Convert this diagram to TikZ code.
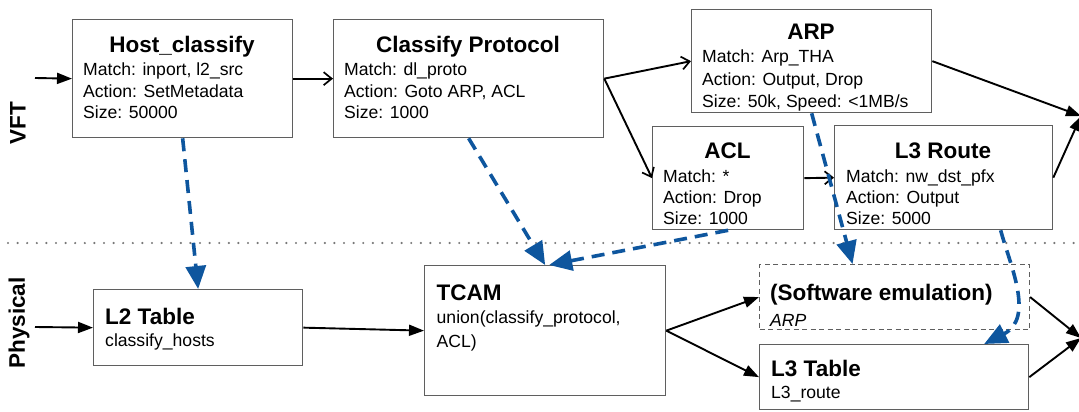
\documentclass[tikz,border=0pt]{standalone}
\usepackage{fontspec}
\setmainfont{Liberation Sans}
\usetikzlibrary{arrows.meta,calc}
\definecolor{dblue}{RGB}{14,86,158}
\definecolor{bgray}{RGB}{95,95,95}
\definecolor{dgray}{RGB}{120,120,120}
\begin{document}
\begin{tikzpicture}[x=1pt,y=-1pt,
 box/.style={draw=bgray,line width=1.3pt,rectangle,inner sep=0,anchor=north west},
 swbox/.style={draw=bgray,line width=1.1pt,dash pattern=on 5pt off 3.5pt,rectangle,inner sep=0,anchor=north west},
 ttl/.style={font=\fontsize{22.5}{26}\selectfont\bfseries,inner sep=0,anchor=base},
 ttll/.style={font=\fontsize{22.5}{26}\selectfont\bfseries,inner sep=0,anchor=base west},
 txt/.style={font=\fontsize{17.6}{21}\selectfont,inner sep=0,anchor=base west},
 side/.style={font=\fontsize{22.5}{26}\selectfont\bfseries,inner sep=0,rotate=90},
 flow/.style={draw=black,line width=1.9pt,-{Triangle[length=15pt,width=11pt]}},
 flowo/.style={draw=black,line width=1.9pt,-{Straight Barb[length=8pt,width=13pt,line width=1.7pt]}},
 map/.style={draw=dblue,line width=3.6pt,dash pattern=on 13pt off 8pt,-{Triangle[length=23pt,width=20pt]}},
 dotline/.style={draw=dgray,line width=2.4pt,line cap=round,dash pattern=on 0pt off 9.6pt},
]
\useasboundingbox (0,0) rectangle (1079,412);

% dotted separator
\coordinate (dL) at (8,243);
\coordinate (dR) at (1079,243);
\draw[dotline] (dL) -- (dR);

% side labels
\node[side] (vft) at (18,123) {VFT};
\node[side] (phys) at (19,323) {Physical};

% VFT boxes
\node[box,minimum width=220pt,minimum height=118pt] (host) at (72,19) {};
\node[box,minimum width=270pt,minimum height=118pt] (cp) at (333,19) {};
\node[box,minimum width=240pt,minimum height=103pt] (arp) at (691,9) {};
\node[box,minimum width=151pt,minimum height=103pt] (acl) at (652,126) {};
\node[box,minimum width=218pt,minimum height=104pt] (l3r) at (834,125) {};

% Physical boxes
\node[box,minimum width=209pt,minimum height=76pt] (l2) at (93,289) {};
\node[box,minimum width=241pt,minimum height=130pt] (tcam) at (424,265) {};
\node[swbox,minimum width=270pt,minimum height=65pt] (sw) at (759,264) {};
\node[box,minimum width=269pt,minimum height=65pt] (l3t) at (759,344) {};

% texts: Host_classify
\node[ttl] (t1) at (182,53) {Host\_classify};
\node[txt] (t1a) at (83,75) {Match: inport, l2\_src};
\node[txt] (t1b) at (83,97) {Action: SetMetadata};
\node[txt] (t1c) at (83,118) {Size: 50000};
% Classify Protocol
\node[ttl] (t2) at (468,53) {Classify Protocol};
\node[txt] (t2a) at (344,75) {Match: dl\_proto};
\node[txt] (t2b) at (344,97) {Action: Goto ARP, ACL};
\node[txt] (t2c) at (344,118) {Size: 1000};
% ARP
\node[ttl] (t3) at (811,40) {ARP};
\node[txt] (t3a) at (702,63) {Match: Arp\_THA};
\node[txt] (t3b) at (702,85) {Action: Output, Drop};
\node[txt] (t3c) at (702,107) {Size: 50k, Speed: <1MB/s};
% ACL
\node[ttl] (t4) at (727.5,158) {ACL};
\node[txt] (t4a) at (663,182) {Match: *};
\node[txt] (t4b) at (663,203) {Action: Drop};
\node[txt] (t4c) at (663,224) {Size: 1000};
% L3 Route
\node[ttl] (t5) at (943,158) {L3 Route};
\node[txt] (t5a) at (846,182) {Match: nw\_dst\_pfx};
\node[txt] (t5b) at (846,203) {Action: Output};
\node[txt] (t5c) at (846,224) {Size: 5000};
% L2 Table
\node[ttll] (t6) at (105,324) {L2 Table};
\node[txt] (t6a) at (105,346) {classify\_hosts};
% TCAM
\node[ttll] (t7) at (436.5,300) {TCAM};
\node[txt] (t7a) at (436.5,323) {union(classify\_protocol,};
\node[txt] (t7b) at (436.5,347) {ACL)};
% Software emulation
\node[ttll] (t8) at (770,300) {(Software emulation)};
\node[txt,font=\fontsize{17.6}{21}\selectfont\itshape] (t8a) at (770,326) {ARP};
% L3 Table
\node[ttll] (t9) at (771,376) {L3 Table};
\node[txt] (t9a) at (771,398) {L3\_route};

% black flow arrows
\coordinate (inA) at (35,78);
\coordinate (inB) at (35,327);
\coordinate (outA) at (1081,116);
\coordinate (outB) at (1081,338);
\draw[flow] (inA) -- (host.west);
\draw[flowo] (host.east) -- (cp.west);
\draw[flowo] (cp.east) -- (arp.west);
\draw[flowo] (cp.east) -- (acl.west);
\draw[flowo] (acl.east) -- (l3r.west);
\draw[flow] (arp.east) -- (outA);
\draw[flow] (l3r.east) -- (outA);
\draw[flow] (inB) -- (l2.west);
\draw[flow] (l2.east) -- (tcam.west);
\draw[flow] (tcam.east) -- (sw.west);
\draw[flow] (tcam.east) -- (l3t.west);
\draw[flow] (sw.east) -- (outB);
\draw[flow] (l3t.east) -- (outB);

% blue mapping arrows
\draw[map] (host.south) -- (l2.north);
\draw[map] (cp.south) -- (tcam.north);
\draw[map] (acl.south) -- ([xshift=4pt]tcam.north);
\draw[map] (arp.south) -- ([xshift=-42pt]sw.north);
\draw[map] ([xshift=57pt]l3r.south) .. controls (1010,265) and (1035,318) .. ([xshift=90pt]l3t.north);
\end{tikzpicture}
\end{document}
